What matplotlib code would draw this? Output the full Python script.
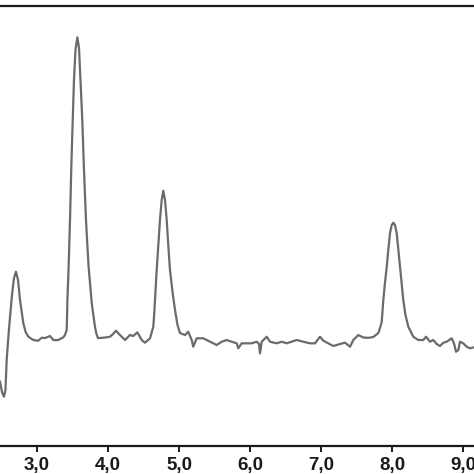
import matplotlib
matplotlib.use("Agg")
import matplotlib.pyplot as plt

# retention time (min) and detector signal (a.u.)
time = [2.479, 2.507, 2.535, 2.556, 2.573, 2.599, 2.620, 2.648, 2.676, 2.704,
        2.733, 2.761, 2.807, 2.840, 2.878, 2.948, 3.018, 3.066, 3.113, 3.183, 3.230,
        3.300, 3.371, 3.394, 3.418, 3.423, 3.427, 3.444, 3.465, 3.486, 3.503, 3.521,
        3.542, 3.568, 3.592, 3.613, 3.638, 3.662, 3.690, 3.725, 3.771, 3.817, 3.838,
        3.859, 3.887, 3.958, 4.028, 4.071, 4.113, 4.155, 4.193, 4.240, 4.310,
        4.356, 4.413, 4.475, 4.521, 4.592, 4.638, 4.650, 4.662, 4.686, 4.709, 4.732,
        4.756, 4.779, 4.803, 4.827, 4.849, 4.873, 4.909, 4.944, 4.979, 5.014,
        5.085, 5.131, 5.179, 5.201, 5.249, 5.342, 5.437, 5.531, 5.602, 5.672,
        5.742, 5.813, 5.835, 5.883, 5.954, 6.024, 6.095, 6.127, 6.141, 6.165,
        6.235, 6.282, 6.376, 6.447, 6.517, 6.587, 6.658, 6.751, 6.845, 6.916,
        6.986, 7.033, 7.103, 7.173, 7.268, 7.338, 7.409, 7.455, 7.526, 7.596,
        7.666, 7.737, 7.807, 7.831, 7.855, 7.878, 7.901, 7.926, 7.948, 7.972,
        7.996, 8.019, 8.042, 8.066, 8.089, 8.113, 8.159, 8.190, 8.230, 8.300,
        8.371, 8.441, 8.479, 8.535, 8.582, 8.630, 8.676, 8.723, 8.770, 8.841,
        8.873, 8.901, 8.934, 8.958, 9.004, 9.052, 9.099, 9.155]
signal = [64.3, 54, 49.3, 56, 86, 111, 129, 151, 168, 174.3,
          166, 146, 123, 114, 109.3, 106, 105.3, 108.3, 108, 110, 106,
          106, 108.7, 111, 116, 128, 143, 176, 226, 286, 326, 366,
          396, 408.7, 398, 366, 326, 276, 226, 181, 143, 119, 112,
          108, 108, 108.5, 109.3, 112, 115.3, 112, 109.3, 106, 111,
          110, 113.7, 106, 103.3, 107.7, 119.3, 131, 146, 176, 201, 226,
          246, 255.3, 246, 226, 201, 176, 154, 136, 121, 113,
          111, 114.3, 106, 99.3, 107.7, 107.7, 104.3, 101, 104.3, 106,
          104.3, 102.7, 97.7, 102.7, 102.7, 102.7, 104.3, 102, 92.7, 104.3,
          109.3, 104.3, 102.7, 104.3, 102.7, 104.3, 106, 104.3, 102.7, 102.7,
          109.3, 105.3, 102.7, 100, 102, 103.3, 99.3, 106, 111, 108.5,
          108.2, 109, 113, 118, 124, 146, 163, 179.3, 196, 213,
          221, 223.3, 221, 213, 196, 179.3, 146, 131, 119.3, 109.3,
          106, 106, 109.3, 104.3, 106, 102, 100, 103.3, 104.3, 107.7,
          102.7, 94.3, 96, 104.3, 102.7, 99.3, 97.7, 98.7]

tick_pos = [3.0, 4.0, 5.0, 6.0, 7.0, 8.0, 9.0]
tick_labels = ["3,0", "4,0", "5,0", "6,0", "7,0", "8,0", "9,0"]

fig = plt.figure(figsize=(4.74, 4.74), dpi=100)
ax = fig.add_axes([0.0, 0.0591, 1.0, 0.928])  # picture is a crop, side spines fall outside

ax.plot(time, signal, color="#6b6b6b", lw=1.6, solid_joinstyle="round")

ax.set_xlim(2.479, 9.155)
ax.set_ylim(0, 440)

ax.spines["left"].set_visible(False)
ax.spines["right"].set_visible(False)
ax.spines["top"].set_linewidth(1.6)
ax.spines["bottom"].set_linewidth(1.6)
ax.spines["top"].set_color("#1a1a1a")
ax.spines["bottom"].set_color("#1a1a1a")

ax.set_yticks([])
ax.set_xticks(tick_pos)
ax.set_xticklabels(tick_labels, fontfamily="Liberation Sans", fontweight="bold", fontsize=13.5)
ax.tick_params(axis="x", direction="out", length=4, width=1.4, pad=4, colors="#1a1a1a")

fig.savefig("out.png", dpi=100)
